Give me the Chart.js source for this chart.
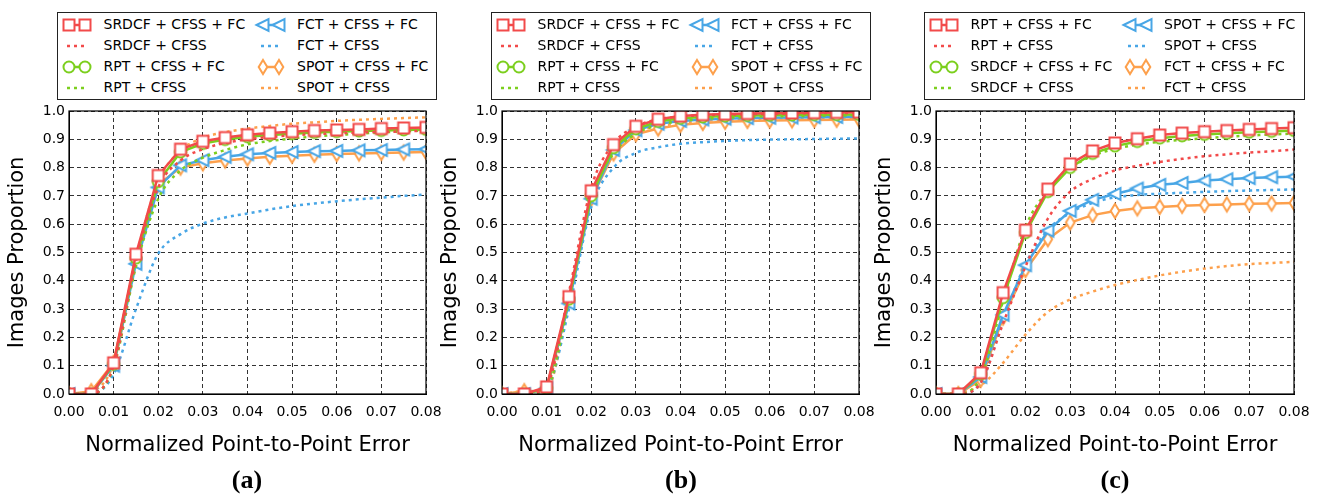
<!DOCTYPE html>
<html><head><meta charset="utf-8">
<script src="https://cdn.jsdelivr.net/npm/chart.js@4"></script>
<style>
html,body{margin:0;padding:0;background:#fff;}
body{width:1322px;height:497px;position:relative;overflow:hidden;font-family:"DejaVu Sans",sans-serif;}
canvas.chart{position:absolute;top:0;}
.legend{position:absolute;top:12px;height:88px;border:1px solid #222;background:#fff;box-sizing:border-box;}
.item{position:absolute;height:21px;line-height:21px;font-size:14px;white-space:nowrap;color:#000;}
.handle{position:absolute;}
.sub{position:absolute;top:465px;font-family:"Liberation Serif",serif;font-weight:bold;font-size:26px;line-height:30px;transform:translateX(-50%);color:#000;}
</style>
</head><body>
<canvas id="ca" class="chart" width="460" height="497" style="left:0px"></canvas>
<canvas id="cb" class="chart" width="460" height="497" style="left:433px"></canvas>
<canvas id="cc" class="chart" width="455" height="497" style="left:867px"></canvas>
<div id="la" class="legend" style="left:57px;width:380px"></div>
<div id="lb" class="legend" style="left:491px;width:380px"></div>
<div id="lc" class="legend" style="left:924px;width:381px"></div>
<div class="sub" style="left:247px">(a)</div>
<div class="sub" style="left:681px">(b)</div>
<div class="sub" style="left:1115px">(c)</div>
<script>
// ---------- data ----------
const xValues = [0, 0.005, 0.01, 0.015, 0.02, 0.025, 0.03, 0.035, 0.04, 0.045, 0.05, 0.055, 0.06, 0.065, 0.07, 0.075, 0.08];
const xTickLabels = ['0.00','0.01','0.02','0.03','0.04','0.05','0.06','0.07','0.08'];
const yTickLabels = ['0.0','0.1','0.2','0.3','0.4','0.5','0.6','0.7','0.8','0.9','1.0'];

// panel (a)
const namesA = ['SRDCF + CFSS + FC','SRDCF + CFSS','RPT + CFSS + FC','RPT + CFSS','FCT + CFSS + FC','FCT + CFSS','SPOT + CFSS + FC','SPOT + CFSS'];
const a_SRDCF_FC = [0,0,0.11,0.494,0.772,0.865,0.893,0.906,0.916,0.922,0.927,0.931,0.933,0.935,0.938,0.94,0.942];
const a_SRDCF    = [0,0,0.10,0.47,0.73,0.825,0.865,0.887,0.90,0.908,0.914,0.918,0.921,0.924,0.926,0.928,0.93];
const a_RPT_FC   = [0,0,0.105,0.48,0.75,0.855,0.885,0.899,0.909,0.915,0.92,0.924,0.927,0.929,0.931,0.933,0.935];
const a_RPT      = [0,0,0.095,0.45,0.69,0.79,0.835,0.862,0.882,0.894,0.903,0.91,0.915,0.92,0.924,0.928,0.932];
const a_FCT_FC   = [0,0,0.10,0.46,0.73,0.808,0.826,0.838,0.847,0.852,0.855,0.858,0.859,0.861,0.862,0.864,0.865];
const a_FCT      = [0,0,0.07,0.30,0.496,0.565,0.602,0.624,0.638,0.652,0.664,0.673,0.681,0.688,0.694,0.70,0.705];
const a_SPOT_FC  = [0,0.01,0.11,0.48,0.74,0.80,0.815,0.825,0.832,0.838,0.842,0.845,0.848,0.85,0.852,0.853,0.855];
const a_SPOT     = [0,0.01,0.11,0.48,0.75,0.86,0.905,0.925,0.938,0.947,0.955,0.96,0.965,0.969,0.972,0.975,0.978];

// panel (b)
const namesB = ['SRDCF + CFSS + FC','SRDCF + CFSS','RPT + CFSS + FC','RPT + CFSS','FCT + CFSS + FC','FCT + CFSS','SPOT + CFSS + FC','SPOT + CFSS'];
const b_SRDCF_FC = [0,0,0.025,0.344,0.718,0.881,0.946,0.971,0.982,0.987,0.989,0.991,0.992,0.993,0.994,0.995,0.996];
const b_SRDCF    = [0,0,0.03,0.36,0.73,0.885,0.945,0.97,0.98,0.985,0.987,0.989,0.99,0.991,0.992,0.993,0.993];
const b_RPT_FC   = [0,0,0.02,0.335,0.70,0.87,0.937,0.963,0.974,0.979,0.982,0.984,0.985,0.986,0.987,0.987,0.988];
const b_RPT      = [0,0,0.02,0.33,0.70,0.85,0.92,0.95,0.965,0.972,0.976,0.979,0.981,0.982,0.983,0.984,0.985];
const b_FCT_FC   = [0,0,0.02,0.32,0.69,0.862,0.932,0.955,0.965,0.97,0.973,0.975,0.976,0.977,0.978,0.979,0.98];
const b_FCT      = [0,0,0.02,0.30,0.66,0.80,0.852,0.872,0.884,0.89,0.894,0.897,0.899,0.90,0.901,0.902,0.903];
const b_SPOT_FC  = [0,0.01,0.01,0.33,0.69,0.85,0.918,0.938,0.951,0.958,0.962,0.965,0.966,0.967,0.968,0.969,0.97];
const b_SPOT     = [0,0.01,0.015,0.33,0.69,0.855,0.925,0.945,0.958,0.965,0.969,0.972,0.973,0.974,0.975,0.976,0.976];

// panel (c)
const namesC = ['RPT + CFSS + FC','RPT + CFSS','SRDCF + CFSS + FC','SRDCF + CFSS','SPOT + CFSS + FC','SPOT + CFSS','FCT + CFSS + FC','FCT + CFSS'];
const c_RPT_FC   = [0,0,0.075,0.358,0.579,0.724,0.813,0.859,0.887,0.902,0.915,0.922,0.927,0.931,0.935,0.938,0.941];
const c_RPT      = [0,0,0.04,0.25,0.45,0.62,0.715,0.76,0.79,0.806,0.82,0.831,0.84,0.847,0.853,0.858,0.864];
const c_SRDCF_FC = [0,0,0.07,0.34,0.57,0.715,0.80,0.85,0.876,0.892,0.904,0.912,0.917,0.921,0.925,0.928,0.931];
const c_SRDCF    = [0,0,0.06,0.33,0.59,0.72,0.797,0.842,0.866,0.881,0.891,0.898,0.904,0.909,0.913,0.917,0.92];
const c_SPOT_FC  = [0,0,0.06,0.28,0.455,0.577,0.647,0.686,0.707,0.726,0.739,0.746,0.754,0.759,0.763,0.766,0.768];
const c_SPOT     = [0,0,0.04,0.26,0.46,0.58,0.64,0.675,0.695,0.703,0.708,0.711,0.714,0.717,0.719,0.721,0.723];
const c_FCT_FC   = [0,0,0.05,0.27,0.438,0.547,0.606,0.632,0.647,0.656,0.661,0.665,0.668,0.67,0.672,0.673,0.675];
const c_FCT      = [0,0.005,0.03,0.11,0.21,0.29,0.334,0.362,0.385,0.403,0.419,0.432,0.443,0.452,0.459,0.463,0.467];

// ---------- styles ----------
const RED = '#f24a4a', GREEN = '#7ccf1e', BLUE = '#48a6e6', ORANGE = '#fda04c';
const colors  = [RED, RED, GREEN, GREEN, BLUE, BLUE, ORANGE, ORANGE];
const markers = ['square', null, 'circle', null, 'triLeft', null, 'thinDiamond', null];

function drawMarker(ctx, type, cx, cy, color) {
  ctx.save();
  ctx.lineWidth = 2; ctx.strokeStyle = color; ctx.fillStyle = '#fff'; ctx.lineJoin = 'miter';
  ctx.setLineDash([]);
  ctx.beginPath();
  if (type === 'square') ctx.rect(cx - 5.5, cy - 5.5, 11, 11);
  else if (type === 'circle') ctx.arc(cx, cy, 5.5, 0, Math.PI * 2);
  else if (type === 'triLeft') { ctx.moveTo(cx - 6.5, cy); ctx.lineTo(cx + 5.5, cy - 6); ctx.lineTo(cx + 5.5, cy + 6); ctx.closePath(); }
  else if (type === 'thinDiamond') { ctx.moveTo(cx, cy - 7); ctx.lineTo(cx + 4.3, cy); ctx.lineTo(cx, cy + 7); ctx.lineTo(cx - 4.3, cy); ctx.closePath(); }
  ctx.fill(); ctx.stroke();
  ctx.restore();
}
function markerImage(type, color) {
  const c = document.createElement('canvas');
  c.width = 20; c.height = 20;
  drawMarker(c.getContext('2d'), type, 10, 10, color);
  return c;
}

const framePlugin = {
  id: 'frame',
  afterDraw(chart) {
    const {ctx, chartArea: a} = chart;
    ctx.save();
    ctx.strokeStyle = '#000'; ctx.lineWidth = 1.2;
    ctx.strokeRect(a.left, a.top, a.right - a.left, a.bottom - a.top);
    ctx.restore();
  }
};

function buildChart(id, names, series, padRight) {
  const datasets = names.map((n, i) => {
    const solid = markers[i] !== null;
    return {
      label: n,
      data: xValues.map((x, k) => ({x: x, y: series[i][k]})),
      borderColor: colors[i],
      backgroundColor: colors[i],
      borderWidth: solid ? 2.5 : 2.5,
      borderDash: solid ? [] : [3, 4],
      pointStyle: solid ? markerImage(markers[i], colors[i]) : 'circle',
      pointRadius: solid ? 6 : 0,
      pointHoverRadius: solid ? 6 : 0,
      cubicInterpolationMode: solid ? 'default' : 'monotone',
      tension: 0,
      fill: false,
      clip: 0
    };
  });
  const tickFont = {family: 'DejaVu Sans', size: 14};
  const titleFont = {family: 'DejaVu Sans', size: 21};
  return new Chart(document.getElementById(id), {
    type: 'line',
    data: {datasets},
    options: {
      responsive: false, animation: false, events: [],
      layout: {padding: {left: 0, right: padRight, top: 111, bottom: 39}},
      plugins: {legend: {display: false}, tooltip: {enabled: false}},
      scales: {
        x: {
          type: 'linear', min: 0, max: 0.08,
          ticks: {stepSize: 0.01, autoSkip: false, maxRotation: 0, font: tickFont, color: '#000', padding: 10,
                  callback: (v) => xTickLabels[Math.round(v / 0.01)]},
          grid: {color: '#333', lineWidth: 1, drawTicks: false},
          border: {display: true, color: '#000', width: 1, dash: [4, 3]},
          title: {display: true, text: 'Normalized Point-to-Point Error', font: titleFont, color: '#000', padding: {top: 0, bottom: 0}},
          afterFit: (s) => { s.height = 64; }
        },
        y: {
          type: 'linear', min: 0, max: 1,
          ticks: {stepSize: 0.1, font: tickFont, color: '#000', padding: 4,
                  callback: (v) => yTickLabels[Math.round(v / 0.1)]},
          grid: {color: '#333', lineWidth: 1, drawTicks: false},
          border: {display: true, color: '#000', width: 1, dash: [4, 3]},
          title: {display: true, text: 'Images Proportion', font: titleFont, color: '#000', padding: {top: 5, bottom: 0}},
          afterFit: (s) => { s.width = 69; }
        }
      }
    },
    plugins: [framePlugin]
  });
}

function buildLegend(id, names) {
  const box = document.getElementById(id);
  names.forEach((n, i) => {
    const col = i < 4 ? 0 : 1;
    const row = i % 4;
    const hc = document.createElement('canvas');
    hc.width = 34; hc.height = 20; hc.className = 'handle';
    hc.style.left = (col ? 196 : 2) + 'px';
    hc.style.top = (1.5 + 21 * row) + 'px';
    const ctx = hc.getContext('2d');
    ctx.strokeStyle = colors[i]; ctx.lineWidth = 2.5;
    if (markers[i]) {
      ctx.beginPath(); ctx.moveTo(9, 10); ctx.lineTo(25, 10); ctx.stroke();
      drawMarker(ctx, markers[i], 9, 10, colors[i]);
      drawMarker(ctx, markers[i], 25, 10, colors[i]);
    } else {
      ctx.setLineDash([3, 4]);
      ctx.beginPath(); ctx.moveTo(7, 10); ctx.lineTo(28, 10); ctx.stroke();
    }
    box.appendChild(hc);
    const t = document.createElement('div');
    t.className = 'item';
    t.textContent = n;
    t.style.left = (col ? 239 : 45.5) + 'px';
    t.style.top = (1 + 21 * row) + 'px';
    box.appendChild(t);
  });
}

buildChart('ca', namesA, [a_SRDCF_FC, a_SRDCF, a_RPT_FC, a_RPT, a_FCT_FC, a_FCT, a_SPOT_FC, a_SPOT], 34);
buildChart('cb', namesB, [b_SRDCF_FC, b_SRDCF, b_RPT_FC, b_RPT, b_FCT_FC, b_FCT, b_SPOT_FC, b_SPOT], 34);
buildChart('cc', namesC, [c_RPT_FC, c_RPT, c_SRDCF_FC, c_SRDCF, c_SPOT_FC, c_SPOT, c_FCT_FC, c_FCT], 28);
buildLegend('la', namesA);
buildLegend('lb', namesB);
buildLegend('lc', namesC);
</script>
</body></html>
